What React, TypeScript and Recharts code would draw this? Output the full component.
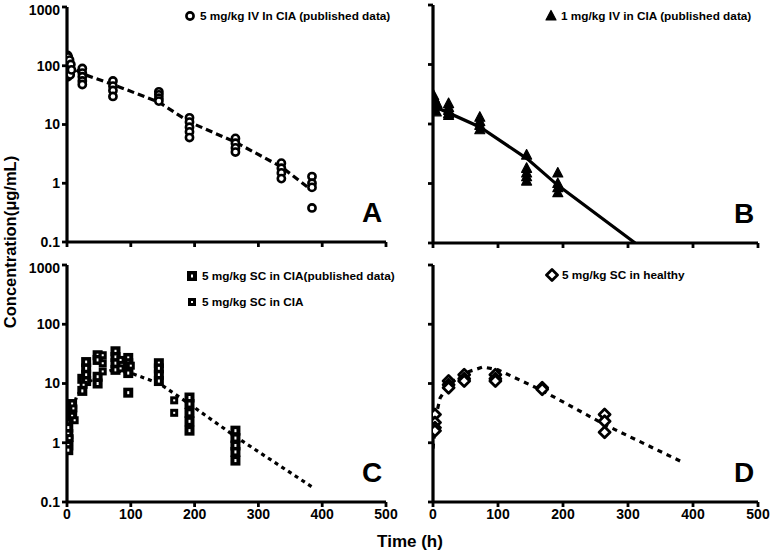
import React from 'react';
import { ScatterChart, Scatter, XAxis, YAxis } from 'recharts';

const FONT = '"Liberation Sans", Arial, Helvetica, sans-serif';

const timeTicks = [0, 100, 200, 300, 400, 500];
const concTicks = [0.1, 1, 10, 100, 1000];

// Panel A: 5 mg/kg IV in CIA (published)
const ivHighTimes = [1, 1, 1, 1, 2, 2, 2, 2, 3, 3, 3, 4, 4, 5, 5, 6, 7, 24, 24, 24, 24, 24, 72, 72, 72, 72, 144, 144, 144, 144, 192, 192, 192, 192, 192, 264, 264, 264, 264, 336, 336, 336, 336, 384, 384, 384, 384];
const ivHighConc = [150, 130, 85, 65, 140, 120, 100, 75, 110, 90, 70, 125, 80, 95, 70, 105, 85, 90, 75, 65, 55, 48, 55, 45, 38, 30, 36, 32, 28, 25, 13, 11, 9, 7.5, 6, 5.8, 4.8, 4, 3.4, 2.2, 1.8, 1.5, 1.2, 1.3, 1.0, 0.85, 0.38];
const ivHighModelTimes = [0, 24, 72, 144, 192, 264, 336, 384];
const ivHighModelConc = [105, 73, 48, 24, 11, 5, 1.9, 0.75];

// Panel B: 1 mg/kg IV in CIA (published)
const ivLowTimes = [1, 1, 1, 2, 2, 3, 4, 5, 6, 24, 24, 24, 24, 24, 72, 72, 72, 72, 144, 144, 144, 144, 144, 192, 192, 192, 192];
const ivLowConc = [30, 22, 17, 27, 18, 25, 20, 16, 22, 22, 19, 17, 15, 14, 13, 11, 9.5, 8, 3.0, 1.8, 1.5, 1.3, 1.1, 1.5, 1.0, 0.85, 0.7];
const ivLowModelTimes = [0, 10, 72, 145, 192, 311];
const ivLowModelConc = [24, 18, 8.9, 2.6, 0.93, 0.1];

// Panel C: 5 mg/kg SC in CIA (published + own)
const scPubTimes = [2, 2, 2, 2, 2, 8, 8, 8, 24, 24, 30, 30, 30, 30, 48, 48, 48, 48, 76, 76, 76, 76, 96, 96, 96, 96, 96, 144, 144, 144, 144, 192, 192, 192, 192, 192, 264, 264, 264, 264, 264];
const scPubConc = [1.8, 1.4, 1.1, 0.9, 0.75, 4.5, 3.5, 2.8, 12, 7.5, 23, 18, 14, 11, 30, 25, 13, 10, 35, 28, 22, 17, 27, 22, 18, 15, 7, 22, 18, 14, 11, 5.8, 4.5, 3.2, 2.3, 1.6, 1.6, 1.2, 0.9, 0.7, 0.5];
const scCiaTimes = [4, 10, 12, 26, 56, 56, 56, 84, 84, 100, 168, 168];
const scCiaConc = [1.2, 3.8, 2.4, 9.5, 30, 22, 16, 25, 18, 20, 5.2, 3.2];
const scCiaModelTimes = [0, 4, 8, 15, 24, 48, 72, 100, 145, 192, 265, 384];
const scCiaModelConc = [0.8, 2, 3.5, 6, 8.5, 14, 17, 15, 10, 4.5, 1.25, 0.18];

// Panel D: 5 mg/kg SC in healthy
const scHealthyTimes = [3, 3, 3, 3, 24, 24, 24, 48, 48, 48, 96, 96, 96, 168, 168, 264, 264, 264];
const scHealthyConc = [3.0, 2.2, 1.8, 1.6, 11, 9.5, 8.5, 14, 12, 11, 14, 12, 11, 8.5, 8, 3.0, 2.3, 1.5];
const scHealthyModelTimes = [0, 5, 11, 24, 48, 77, 100, 168, 265, 384];
const scHealthyModelConc = [0.8, 3, 5.7, 9.5, 15, 19, 17, 7.6, 2.0, 0.47];

const zip = (ts: number[], cs: number[]) => ts.map((t, i) => ({ t, c: cs[i] }));

type MarkerKind = 'circle' | 'triangle' | 'square' | 'smallSquare' | 'diamond';

function Marker({ kind, cx, cy }: { kind: MarkerKind; cx: number; cy: number }) {
  if (kind === 'circle') {
    return <circle cx={cx} cy={cy} r={3.6} fill="#fff" stroke="#000" strokeWidth={2.6} />;
  }
  if (kind === 'triangle') {
    return <polygon points={`${cx},${cy - 5.5} ${cx + 5},${cy + 4} ${cx - 5},${cy + 4}`} fill="#000" stroke="#000" strokeWidth={1.2} strokeLinejoin="round" />;
  }
  if (kind === 'square') {
    return (
      <g>
        <rect x={cx - 5} y={cy - 5} width={10} height={10} fill="#000" />
        <rect x={cx - 1} y={cy - 1.5} width={2} height={3} fill="#fff" />
      </g>
    );
  }
  if (kind === 'smallSquare') {
    return (
      <g>
        <rect x={cx - 4} y={cy - 4} width={8} height={8} fill="#000" />
        <rect x={cx - 1} y={cy - 1} width={2} height={2} fill="#fff" />
      </g>
    );
  }
  return <polygon points={`${cx},${cy - 5.5} ${cx + 5.5},${cy} ${cx},${cy + 5.5} ${cx - 5.5},${cy}`} fill="#fff" stroke="#000" strokeWidth={2.8} strokeLinejoin="round" />;
}

interface Series {
  name: string;
  data: { t: number; c: number }[];
  marker: MarkerKind;
}

interface PanelProps {
  plotLeft: number;
  plotTop: number;
  plotW: number;
  plotH: number;
  showX: boolean;
  showY: boolean;
  series: Series[];
  model: { t: number; c: number }[];
  dash: string;
  letter: string;
}

function Panel({ plotLeft, plotTop, plotW, plotH, showX, showY, series, model, dash, letter }: PanelProps) {
  const ml = 60;
  const mt = 5;
  const width = plotW + ml + 14;
  const height = plotH + mt + 30;
  const tickStyle = { fontSize: 14, fontWeight: 700, fill: '#000', fontFamily: FONT };
  return (
    <div style={{ position: 'absolute', left: plotLeft - ml, top: plotTop - mt }}>
      <ScatterChart width={width} height={height} margin={{ top: mt, right: 14, bottom: 0, left: 0 }}>
        <XAxis
          type="number"
          dataKey="t"
          domain={[0, 500]}
          ticks={timeTicks}
          allowDataOverflow
          height={30}
          axisLine={{ stroke: '#000', strokeWidth: 3.2 }}
          tickLine={{ stroke: '#000', strokeWidth: 2.8 }}
          tickSize={5}
          tick={tickStyle}
          tickFormatter={(v: number) => (showX ? String(v) : '')}
        />
        <YAxis
          type="number"
          dataKey="c"
          scale="log"
          domain={[0.1, 1000]}
          ticks={concTicks}
          allowDataOverflow
          width={ml}
          axisLine={{ stroke: '#000', strokeWidth: 3.2 }}
          tickLine={{ stroke: '#000', strokeWidth: 2.8 }}
          tickSize={5}
          tick={tickStyle}
          tickFormatter={(v: number) => (showY ? String(v) : '')}
        />
        <Scatter
          data={model}
          line={{ stroke: '#000', strokeWidth: 3.2, strokeDasharray: dash }}
          lineType="joint"
          shape={() => <g />}
          isAnimationActive={false}
        />
        {series.map((s) => (
          <Scatter
            key={s.name}
            name={s.name}
            data={s.data}
            shape={(p: any) => <Marker kind={s.marker} cx={p.cx} cy={p.cy} />}
            isAnimationActive={false}
          />
        ))}
      </ScatterChart>
      <div
        style={{
          position: 'absolute',
          left: ml + plotW - 24,
          top: mt + plotH - 43,
          fontFamily: FONT,
          fontWeight: 700,
          fontSize: 28,
          lineHeight: '28px',
        }}
      >
        {letter}
      </div>
    </div>
  );
}

function LegendItem({ x, y, kind, label }: { x: number; y: number; kind: MarkerKind; label: string }) {
  return (
    <div style={{ position: 'absolute', left: x, top: y - 7, display: 'flex', alignItems: 'center', fontFamily: FONT, fontWeight: 700, fontSize: 11.8, whiteSpace: 'nowrap' }}>
      <svg width={14} height={14}>
        <Marker kind={kind} cx={7} cy={7} />
      </svg>
      <span style={{ marginLeft: 3 }}>{label}</span>
    </div>
  );
}

export default function App() {
  return (
    <div style={{ position: 'absolute', left: 0, top: 0, width: 770, height: 555, background: '#fff', overflow: 'hidden' }}>
      <Panel
        plotLeft={67} plotTop={7} plotW={319} plotH={235} showX={false} showY
        series={[{ name: 'ivHigh', data: zip(ivHighTimes, ivHighConc), marker: 'circle' }]}
        model={zip(ivHighModelTimes, ivHighModelConc)} dash="7 4" letter="A"
      />
      <Panel
        plotLeft={433} plotTop={5} plotW={325} plotH={238} showX={false} showY={false}
        series={[{ name: 'ivLow', data: zip(ivLowTimes, ivLowConc), marker: 'triangle' }]}
        model={zip(ivLowModelTimes, ivLowModelConc)} dash="" letter="B"
      />
      <Panel
        plotLeft={67} plotTop={265} plotW={319} plotH={237} showX showY
        series={[
          { name: 'scPub', data: zip(scPubTimes, scPubConc), marker: 'square' },
          { name: 'scCia', data: zip(scCiaTimes, scCiaConc), marker: 'smallSquare' },
        ]}
        model={zip(scCiaModelTimes, scCiaModelConc)} dash="4 4" letter="C"
      />
      <Panel
        plotLeft={433} plotTop={265} plotW={325} plotH={237} showX showY={false}
        series={[{ name: 'scHealthy', data: zip(scHealthyTimes, scHealthyConc), marker: 'diamond' }]}
        model={zip(scHealthyModelTimes, scHealthyModelConc)} dash="5 5" letter="D"
      />
      <LegendItem x={183} y={16} kind="circle" label="5 mg/kg IV In CIA (published data)" />
      <LegendItem x={544} y={16} kind="triangle" label="1 mg/kg IV in CIA (published data)" />
      <LegendItem x={185} y={276} kind="square" label="5 mg/kg SC in CIA(published data)" />
      <LegendItem x={185} y={302} kind="smallSquare" label="5 mg/kg SC in CIA" />
      <LegendItem x={545} y={275} kind="diamond" label="5 mg/kg SC in healthy" />
      <div style={{ position: 'absolute', left: 410, top: 542, transform: 'translate(-50%, -50%)', fontFamily: FONT, fontWeight: 700, fontSize: 17, whiteSpace: 'nowrap' }}>
        Time (h)
      </div>
      <div style={{ position: 'absolute', left: 10, top: 242, transform: 'translate(-50%, -50%) rotate(-90deg)', fontFamily: FONT, fontWeight: 700, fontSize: 16.5, whiteSpace: 'nowrap' }}>
        Concentration(μg/mL)
      </div>
    </div>
  );
}
